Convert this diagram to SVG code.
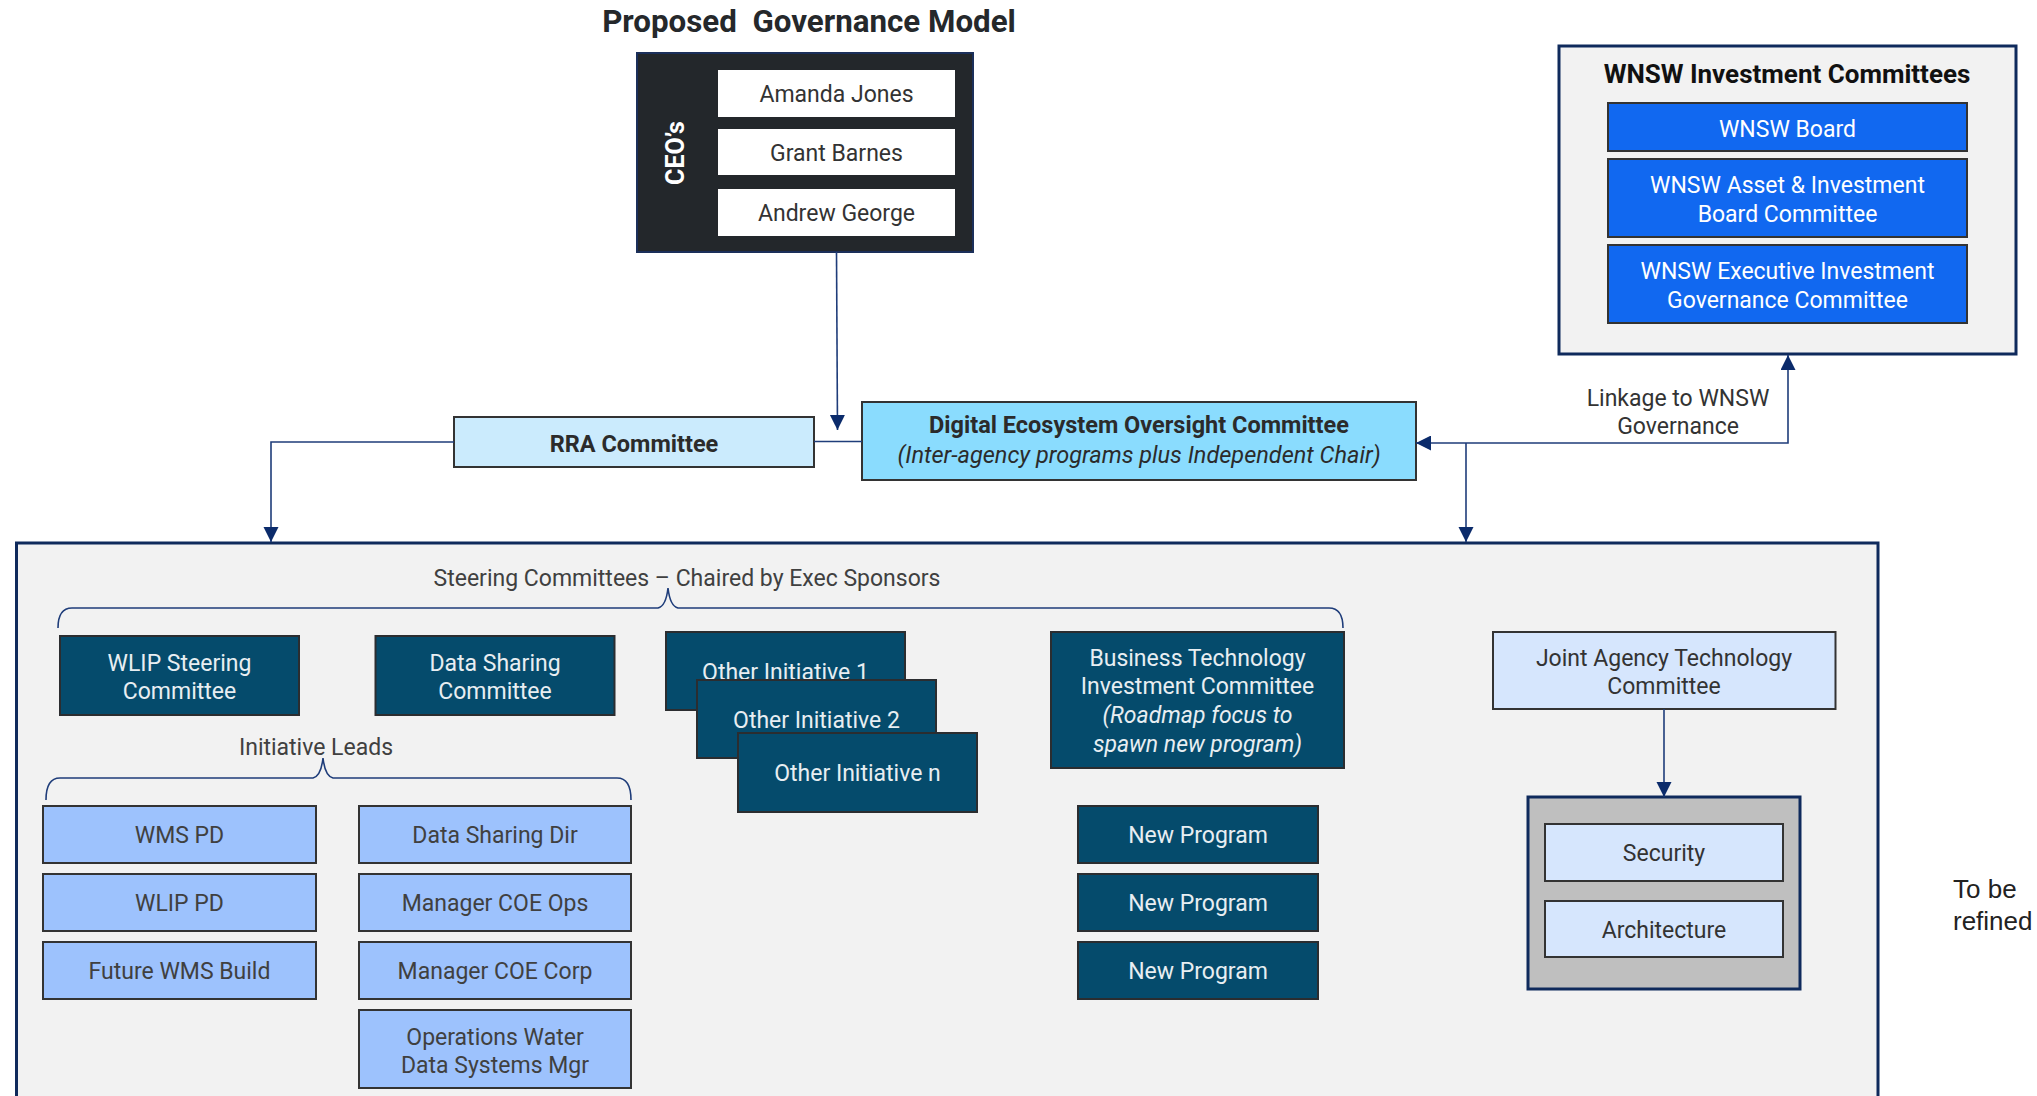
<svg xmlns="http://www.w3.org/2000/svg" width="2037" height="1096" viewBox="0 0 2037 1096">
  <defs>
    <marker id="arrow" markerUnits="userSpaceOnUse" markerWidth="16" markerHeight="16" refX="15" refY="7.5" orient="auto">
      <path d="M0,0 L15,7.5 L0,15 z" fill="#0b2b6b"/>
    </marker>
    <marker id="arrowStart" markerUnits="userSpaceOnUse" markerWidth="16" markerHeight="16" refX="0" refY="7.5" orient="auto">
      <path d="M15,0 L0,7.5 L15,15 z" fill="#0b2b6b"/>
    </marker>
  </defs>
  <style>
    text { font-family: Roboto, "Liberation Sans", sans-serif; font-size: 23px; text-anchor: middle; }
    .title { font-size: 31.3px; font-weight: bold; fill: #25282b; }
    .frame { fill: #f2f2f2; stroke: #0f2a5c; stroke-width: 3; }
    .dark { fill: #054b6c; stroke: #2b2d30; stroke-width: 2; }
    .dark-t { fill: #e8eef2; }
    .lead { fill: #9dc2fd; stroke: #333; stroke-width: 2; }
    .lead-t { fill: #404040; }
    .pale { fill: #d6e6fd; stroke: #333; stroke-width: 2; }
    .pale-t { fill: #333; }
    .wnsw { fill: #1168f0; stroke: #333; stroke-width: 2; }
    .wnsw-t { fill: #ffffff; }
    .label { fill: #404040; }
    .bold { font-weight: bold; }
    .it { font-style: italic; }
    .conn { fill: none; stroke: #1f3d7a; stroke-width: 1.6; }
    .brace { fill: none; stroke: #1f3d7a; stroke-width: 1.6; }
    .note { font-family: "Liberation Sans", Arial, sans-serif; font-size: 26px; text-anchor: start; fill: #222; }
  </style>

  <rect width="2037" height="1096" fill="#ffffff"/>

  <!-- heading -->
  <text class="title" x="809" y="32" xml:space="preserve">Proposed  Governance Model</text>

  <!-- CEO panel -->
  <g id="ceos">
    <rect x="637" y="53" width="336" height="199" fill="#23272b" stroke="#1b2f5a" stroke-width="2"/>
    <text transform="translate(684,153) rotate(-90)" class="bold" style="font-size:25px" fill="#ffffff">CEO’s</text>
    <rect x="718" y="70" width="237" height="47" fill="#ffffff"/>
    <text x="836.5" y="102" fill="#333">Amanda Jones</text>
    <rect x="718" y="129" width="237" height="46" fill="#ffffff"/>
    <text x="836.5" y="161" fill="#333">Grant Barnes</text>
    <rect x="718" y="189" width="237" height="47" fill="#ffffff"/>
    <text x="836.5" y="221" fill="#333">Andrew George</text>
  </g>

  <!-- WNSW investment committees -->
  <g id="wnsw-committees">
    <rect class="frame" x="1559" y="46" width="457" height="308"/>
    <text x="1787" y="83" class="bold" style="font-size:26px" fill="#111">WNSW Investment Committees</text>
  </g>
  <g id="wnsw-board">
    <rect class="wnsw" x="1608" y="103" width="359" height="48"/>
    <text class="wnsw-t" x="1787.5" y="137">WNSW Board</text>
  </g>
  <g id="wnsw-asset">
    <rect class="wnsw" x="1608" y="159" width="359" height="78"/>
    <text class="wnsw-t" x="1787.5" y="193">WNSW Asset &amp; Investment</text>
    <text class="wnsw-t" x="1787.5" y="222">Board Committee</text>
  </g>
  <g id="wnsw-exec">
    <rect class="wnsw" x="1608" y="245" width="359" height="78"/>
    <text class="wnsw-t" x="1787.5" y="279">WNSW Executive Investment</text>
    <text class="wnsw-t" x="1787.5" y="308">Governance Committee</text>
  </g>

  <!-- program container -->
  <g id="program-frame">
    <rect class="frame" x="16.5" y="543" width="1861.5" height="600"/>
    <text class="label" x="687" y="586">Steering Committees – Chaired by Exec Sponsors</text>
    <path class="brace" d="M58,628 Q58,608 72,608 H658 Q666,606 668,588 Q670,606 678,608 H1329 Q1343,608 1343,628"/>
    <text class="label" x="316" y="755">Initiative Leads</text>
    <path class="brace" d="M46,800 Q46,778 60,778 H313 Q321,776 323,758 Q325,776 333,778 H617 Q631,778 631,800"/>
  </g>

  <!-- committees -->
  <g id="rra">
    <rect x="454" y="417" width="360" height="50" fill="#cbebfd" stroke="#333" stroke-width="2"/>
    <text x="634" y="452" class="bold" style="font-size:23.5px" fill="#2b2b2b">RRA Committee</text>
  </g>
  <g id="deoc">
    <rect x="862" y="402" width="554" height="78" fill="#8adcfe" stroke="#333" stroke-width="2"/>
    <text x="1139" y="433" class="bold" style="font-size:23.5px" fill="#2b2b2b">Digital Ecosystem Oversight Committee</text>
    <text x="1139" y="463" class="it" style="font-size:23.5px" fill="#2b2b2b">(Inter-agency programs plus Independent Chair)</text>
  </g>

  <g id="wlip-steering">
    <rect class="dark" x="60" y="636" width="239" height="79"/>
    <text class="dark-t" x="179.5" y="671">WLIP Steering</text>
    <text class="dark-t" x="179.5" y="699">Committee</text>
  </g>
  <g id="data-sharing-committee">
    <rect class="dark" x="375.5" y="636" width="239" height="79"/>
    <text class="dark-t" x="495" y="671">Data Sharing</text>
    <text class="dark-t" x="495" y="699">Committee</text>
  </g>
  <g id="other-initiative-1">
    <rect class="dark" x="666" y="632" width="239" height="78"/>
    <text class="dark-t" x="785.5" y="680">Other Initiative 1</text>
  </g>
  <g id="other-initiative-2">
    <rect class="dark" x="697" y="680" width="239" height="78"/>
    <text class="dark-t" x="816.5" y="728">Other Initiative 2</text>
  </g>
  <g id="other-initiative-n">
    <rect class="dark" x="738" y="733" width="239" height="79"/>
    <text class="dark-t" x="857.5" y="781">Other Initiative n</text>
  </g>
  <g id="business-tech">
    <rect class="dark" x="1051" y="632" width="293" height="136"/>
    <text class="dark-t" x="1197.5" y="666">Business Technology</text>
    <text class="dark-t" x="1197.5" y="694">Investment Committee</text>
    <text class="dark-t it" x="1197.5" y="723">(Roadmap focus to</text>
    <text class="dark-t it" x="1197.5" y="752">spawn new program)</text>
  </g>
  <g id="new-program-1">
    <rect class="dark" x="1078" y="806" width="240" height="57"/>
    <text class="dark-t" x="1198" y="843">New Program</text>
  </g>
  <g id="new-program-2">
    <rect class="dark" x="1078" y="874" width="240" height="57"/>
    <text class="dark-t" x="1198" y="911">New Program</text>
  </g>
  <g id="new-program-3">
    <rect class="dark" x="1078" y="942" width="240" height="57"/>
    <text class="dark-t" x="1198" y="979">New Program</text>
  </g>

  <!-- initiative leads -->
  <g id="wms-pd">
    <rect class="lead" x="43" y="806" width="273" height="57"/>
    <text class="lead-t" x="179.5" y="843">WMS PD</text>
  </g>
  <g id="wlip-pd">
    <rect class="lead" x="43" y="874" width="273" height="57"/>
    <text class="lead-t" x="179.5" y="911">WLIP PD</text>
  </g>
  <g id="future-wms">
    <rect class="lead" x="43" y="942" width="273" height="57"/>
    <text class="lead-t" x="179.5" y="979">Future WMS Build</text>
  </g>
  <g id="data-sharing-dir">
    <rect class="lead" x="359" y="806" width="272" height="57"/>
    <text class="lead-t" x="495" y="843">Data Sharing Dir</text>
  </g>
  <g id="coe-ops">
    <rect class="lead" x="359" y="874" width="272" height="57"/>
    <text class="lead-t" x="495" y="911">Manager COE Ops</text>
  </g>
  <g id="coe-corp">
    <rect class="lead" x="359" y="942" width="272" height="57"/>
    <text class="lead-t" x="495" y="979">Manager COE Corp</text>
  </g>
  <g id="ops-water">
    <rect class="lead" x="359" y="1010" width="272" height="78"/>
    <text class="lead-t" x="495" y="1045">Operations Water</text>
    <text class="lead-t" x="495" y="1073">Data Systems Mgr</text>
  </g>

  <!-- technology committee -->
  <g id="joint-agency">
    <rect class="pale" x="1493" y="632" width="342.5" height="77"/>
    <text class="pale-t" x="1664" y="666">Joint Agency Technology</text>
    <text class="pale-t" x="1664" y="694">Committee</text>
  </g>
  <g id="tech-streams">
    <rect x="1528" y="797" width="272" height="192" fill="#bfbfbf" stroke="#0f2a5c" stroke-width="3"/>
  </g>
  <g id="security">
    <rect class="pale" x="1545" y="824" width="238" height="57"/>
    <text class="pale-t" x="1664" y="861">Security</text>
  </g>
  <g id="architecture">
    <rect class="pale" x="1545" y="901" width="238" height="56"/>
    <text class="pale-t" x="1664" y="938">Architecture</text>
  </g>

  <!-- note -->
  <text class="note" x="1953" y="898">To be</text>
  <text class="note" x="1953" y="930">refined</text>

  <!-- connectors -->
  <g id="connectors">
    <path class="conn" d="M836.5,252 L837.5,430" marker-end="url(#arrow)"/>
    <path class="conn" d="M454,442 H271 V542" marker-end="url(#arrow)"/>
    <path class="conn" d="M814,441.5 H862"/>
    <path class="conn" d="M1416,443 H1788 V355" marker-start="url(#arrowStart)" marker-end="url(#arrow)"/>
    <path class="conn" d="M1466,443 V542" marker-end="url(#arrow)"/>
    <path class="conn" d="M1664,709 V797" marker-end="url(#arrow)"/>
    <text x="1678" y="406" fill="#333">Linkage to WNSW</text>
    <text x="1678" y="434" fill="#333">Governance</text>
  </g>
</svg>
